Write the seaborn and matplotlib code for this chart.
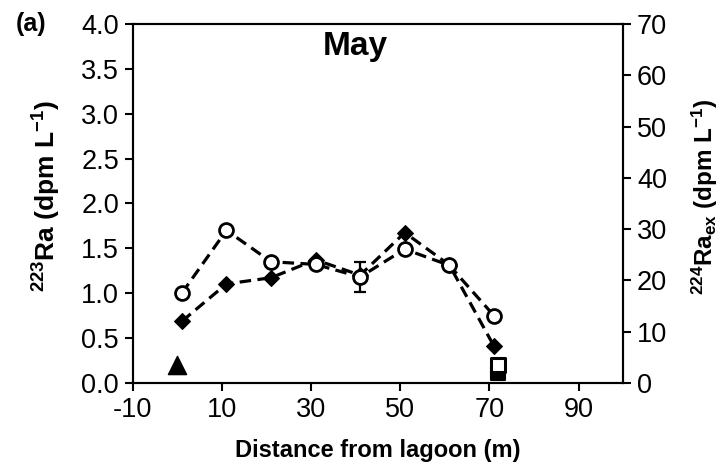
import numpy as np
import pandas as pd
import matplotlib
matplotlib.use("Agg")
import matplotlib.pyplot as plt
import seaborn as sns

# Sampling stations along the transect (m from lagoon)
distance = [1, 11, 21, 31, 41, 51, 61, 71]
ra223 = [1.00, 1.70, 1.35, 1.32, 1.18, 1.49, 1.31, 0.75]       # dpm/L
ra223_err = [0, 0, 0, 0, 0.17, 0, 0, 0]
ra224 = [12.0, 19.3, 20.5, 24.0, 21.0, 29.3, 23.0, 7.2]        # dpm/L

# End members: lagoon (triangle) and ocean (squares)
lagoon_x = [0]
lagoon_ra223 = [0.20]
ocean_x = [72]
ocean_ra223 = [0.20]
ocean_ra224 = [2.0]

x_ticks = [-10, 10, 30, 50, 70, 90]
left_ticks = [0.0, 0.5, 1.0, 1.5, 2.0, 2.5, 3.0, 3.5, 4.0]
right_ticks = [0, 10, 20, 30, 40, 50, 60, 70]

sns.set_theme(style="ticks")
plt.rcParams["font.family"] = ["Liberation Sans", "DejaVu Sans"]
plt.rcParams["mathtext.fontset"] = "custom"
plt.rcParams["mathtext.rm"] = "Liberation Sans"
plt.rcParams["mathtext.bf"] = "Liberation Sans:bold"
plt.rcParams["mathtext.it"] = "Liberation Sans:italic"
for key in ("text.color", "axes.labelcolor", "xtick.color", "ytick.color",
            "axes.edgecolor"):
    plt.rcParams[key] = "black"

fig = plt.figure(figsize=(7.22, 4.72), dpi=100)
ax = fig.add_axes([0.184, 0.189, 0.679, 0.760])
ax2 = ax.twinx()
ax.set_zorder(ax2.get_zorder() + 1)
ax.patch.set_visible(False)

df = pd.DataFrame({"distance": distance, "ra223": ra223, "ra224": ra224})
dash = (0, (3.6, 2.0))

# 224Ra excess on the right axis
sns.lineplot(data=df, x="distance", y="ra224", ax=ax2, color="black",
             linestyle=dash, linewidth=2.3, marker="D",
             markersize=8.5, markerfacecolor="black", markeredgecolor="black")
sns.scatterplot(x=ocean_x, y=ocean_ra224, ax=ax2, marker="s", s=110,
                color="black", edgecolor="black", linewidth=1.5, zorder=3)

# 223Ra on the left axis
ax.errorbar(distance, ra223, yerr=ra223_err, fmt="none", ecolor="black",
            elinewidth=1.6, capsize=4, capthick=1.6, zorder=2)
sns.lineplot(data=df, x="distance", y="ra223", ax=ax, color="black",
             linestyle=dash, linewidth=2.3, marker="o",
             markersize=10, markerfacecolor="white", markeredgecolor="black",
             markeredgewidth=2)
sns.scatterplot(x=lagoon_x, y=lagoon_ra223, ax=ax, marker="^", s=170,
                color="black", edgecolor="black", zorder=4)
sns.scatterplot(x=ocean_x, y=ocean_ra223, ax=ax, marker="s", s=110,
                color="white", edgecolor="black", linewidth=2.2, zorder=4)

ax.set_xlim(-10, 100)
ax.set_ylim(0, 4)
ax2.set_ylim(0, 70)
ax.set_xticks(x_ticks)
ax.set_xticklabels([str(v) for v in x_ticks])
ax.set_yticks(left_ticks)
ax.set_yticklabels([f"{v:.1f}" for v in left_ticks])
ax2.set_yticks(right_ticks)
ax2.set_yticklabels([str(v) for v in right_ticks])

for a in (ax, ax2):
    for s in a.spines.values():
        s.set_visible(True)
        s.set_color("black")
        s.set_linewidth(1.5)
    a.tick_params(colors="black", labelsize=19.5, width=1.5, length=6,
                  direction="out", pad=4)
    a.grid(False)

ax.set_xlabel("Distance from lagoon (m)", fontsize=17, fontweight="bold",
              labelpad=12)
ax.set_ylabel(r"$^{\mathbf{223}}$Ra (dpm L$^{\mathbf{-1}}$)", fontsize=19,
              fontweight="bold")
ax.yaxis.set_label_coords(-0.143, 0.52)
ax2.set_ylabel(r"$^{\mathbf{224}}$Ra$_{\mathbf{ex}}$ (dpm L$^{\mathbf{-1}}$)",
               fontsize=17.5, fontweight="bold", rotation=90)
ax2.yaxis.set_label_coords(1.136, 0.52)

ax.text(40, 3.75, "May", ha="center", va="center", fontsize=24,
        fontweight="bold")
fig.text(0.022, 0.949, "(a)", ha="left", va="center", fontsize=18,
         fontweight="bold")

fig.savefig("out.png", dpi=100)
